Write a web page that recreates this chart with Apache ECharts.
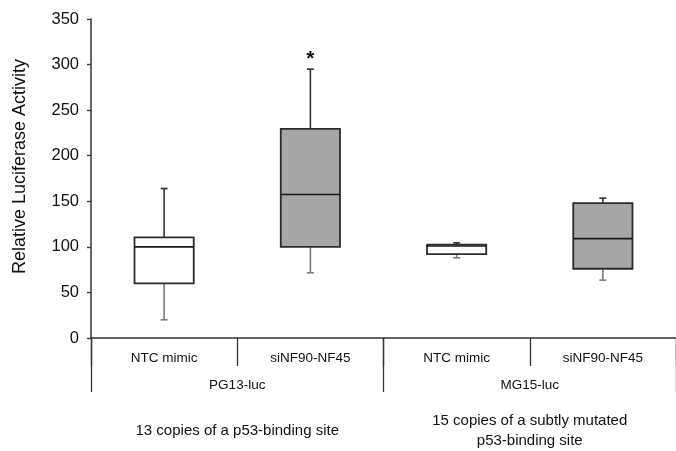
<!DOCTYPE html>
<html>
<head>
<meta charset="utf-8">
<script src="https://cdn.jsdelivr.net/npm/echarts@6/dist/echarts.min.js"></script>
<style>
html, body { margin: 0; padding: 0; background: #fff; }
#chart { width: 676px; height: 451px; }
</style>
</head>
<body>
<div id="chart"></div>
<script>
var categories = ['NTC mimic', 'siNF90-NF45', 'NTC mimic', 'siNF90-NF45'];
var groups = ['PG13-luc', 'MG15-luc'];
var descriptions = ['13 copies of a p53-binding site', '15 copies of a subtly mutated\np53-binding site'];
// low, q1, median, q3, high
var lows = [20, 71.5, 88, 63.5];
var q1s = [60, 100, 92, 76];
var medians = [100, 157.5, 101, 109];
var q3s = [110.5, 229.5, 102.5, 148];
var highs = [164, 295, 104.5, 153.5];
var fills = ['#fdfdfd', '#a6a6a6', '#fdfdfd', '#a6a6a6'];
var stars = ['', '*', '', ''];
var yTicks = [0, 50, 100, 150, 200, 250, 300, 350];

var font = 'Liberation Sans';
var chart = echarts.init(document.getElementById('chart'));

var boxData = categories.map(function (c, i) {
  return [i, lows[i], q1s[i], medians[i], q3s[i], highs[i]];
});

function renderBox(params, api) {
  var i = api.value(0);
  var bw = api.size([1, 0])[0] * 0.405;
  var low = api.coord([i, api.value(1)]);
  var q1 = api.coord([i, api.value(2)]);
  var med = api.coord([i, api.value(3)]);
  var q3 = api.coord([i, api.value(4)]);
  var high = api.coord([i, api.value(5)]);
  var x = low[0];
  var cap = 3.5;
  var children = [
    { type: 'line', shape: { x1: x, y1: q1[1], x2: x, y2: low[1] }, style: { stroke: '#7a7a7a', lineWidth: 1.6 } },
    { type: 'line', shape: { x1: x - cap, y1: low[1], x2: x + cap, y2: low[1] }, style: { stroke: '#7a7a7a', lineWidth: 1.6 } },
    { type: 'line', shape: { x1: x, y1: q3[1], x2: x, y2: high[1] }, style: { stroke: '#333', lineWidth: 1.6 } },
    { type: 'line', shape: { x1: x - cap, y1: high[1], x2: x + cap, y2: high[1] }, style: { stroke: '#333', lineWidth: 1.6 } },
    { type: 'rect', shape: { x: x - bw / 2, y: q3[1], width: bw, height: q1[1] - q3[1] },
      style: { fill: fills[i], stroke: '#2b2b2b', lineWidth: 1.8 } },
    { type: 'line', shape: { x1: x - bw / 2, y1: med[1], x2: x + bw / 2, y2: med[1] }, style: { stroke: '#1a1a1a', lineWidth: 1.6 } }
  ];
  if (stars[i]) {
    children.push({ type: 'text', x: x, y: high[1] + 1,
      style: { text: stars[i], fill: '#111', font: 'bold 21px ' + font, align: 'center', verticalAlign: 'bottom' } });
  }
  return { type: 'group', children: children };
}

var option = {
  backgroundColor: '#fff',
  animation: false,
  grid: { left: 91, right: -8, top: 19, bottom: 111 },
  xAxis: [
    {
      type: 'category', data: categories, boundaryGap: true,
      axisLine: { lineStyle: { color: '#333', width: 1.5 } },
      axisTick: { show: true, interval: 0, length: 28, lineStyle: { color: '#333', width: 1.3 } },
      axisLabel: { interval: 0, margin: 13, fontSize: 13.5, fontFamily: font, color: '#111' },
      splitLine: { show: false }
    },
    {
      type: 'category', data: groups, boundaryGap: true, position: 'bottom', offset: 0,
      axisLine: { show: false },
      axisTick: { show: true, interval: 0, length: 54, lineStyle: { color: '#333', width: 1.3 } },
      axisLabel: { interval: 0, margin: 40, fontSize: 13.5, fontFamily: font, color: '#111' },
      splitLine: { show: false }
    },
    {
      type: 'category', data: descriptions, boundaryGap: true, position: 'bottom', offset: 0,
      axisLine: { show: false },
      axisTick: { show: false },
      axisLabel: { interval: 0, margin: 93, fontSize: 15, lineHeight: 20, verticalAlign: 'middle',
        fontFamily: font, color: '#111' },
      splitLine: { show: false }
    }
  ],
  yAxis: {
    type: 'value', min: yTicks[0], max: yTicks[yTicks.length - 1], interval: 50,
    name: 'Relative Luciferase Activity', nameLocation: 'middle', nameGap: 62,
    nameTextStyle: { fontSize: 18, fontFamily: font, color: '#111', padding: [0, 0, 0, 24] },
    axisLine: { show: true, lineStyle: { color: '#333', width: 1.5 } },
    axisTick: { show: true, length: 4, lineStyle: { color: '#333', width: 1.3 } },
    axisLabel: { margin: 12, fontSize: 16.5, fontFamily: font, color: '#111' },
    splitLine: { show: false }
  },
  series: [{
    type: 'custom',
    xAxisIndex: 0,
    renderItem: renderBox,
    encode: { x: 0, y: [1, 2, 3, 4, 5] },
    data: boxData
  }]
};
chart.setOption(option);
window.addEventListener('resize', function () {
  chart.resize();
});
</script>
</body>
</html>
